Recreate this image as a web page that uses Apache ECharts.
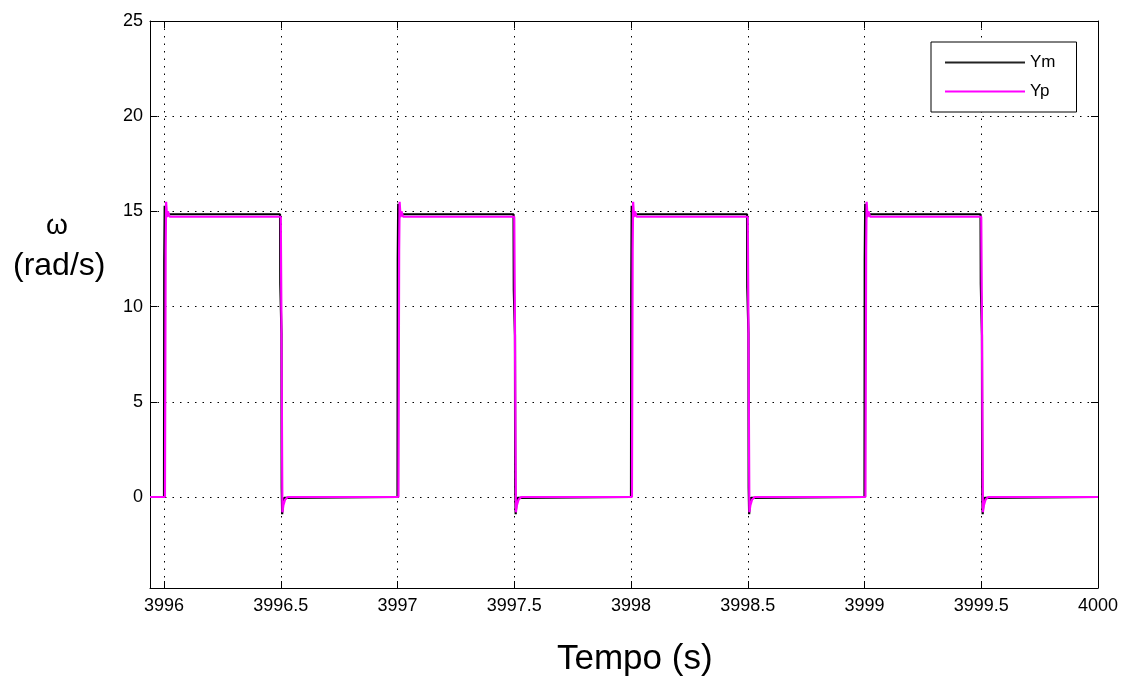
<!DOCTYPE html>
<html>
<head>
<meta charset="utf-8">
<script src="https://cdn.jsdelivr.net/npm/echarts@6/dist/echarts.min.js"></script>
<style>
  html, body { margin: 0; padding: 0; background: #ffffff; }
  #chart { width: 1126px; height: 684px; }
</style>
</head>
<body>
<div id="chart"></div>
<script>
// Axis ranges and tick positions
const xRange = [3995.94, 4000];
const yRange = [-4.78, 25];
const xTicks = [3996, 3996.5, 3997, 3997.5, 3998, 3998.5, 3999, 3999.5, 4000];
const yTicks = [0, 5, 10, 15, 20, 25];

// Ym: measured speed (rad/s) vs time (s)
const ymTime = [
  3995.94, 3996.000, 3996.001, 3996.003, 3996.006, 3996.009, 3996.014, 3996.497, 3996.498, 3996.503, 3996.504, 3996.506, 3996.509, 3996.514, 3996.522,
  3997.000, 3997.001, 3997.003, 3997.006, 3997.009, 3997.014, 3997.497, 3997.498, 3997.503, 3997.504, 3997.506, 3997.509, 3997.514, 3997.522,
  3998.000, 3998.001, 3998.003, 3998.006, 3998.009, 3998.014, 3998.497, 3998.498, 3998.503, 3998.504, 3998.506, 3998.509, 3998.514, 3998.522,
  3999.000, 3999.001, 3999.003, 3999.006, 3999.009, 3999.014, 3999.497, 3999.498, 3999.503, 3999.504, 3999.506, 3999.509, 3999.514, 3999.522,
  4000.000
];
const ymValue = [
  0, 0, 12.4, 15.3, 14.6, 15.0, 14.85, 14.85, 11.2, 8.6, 0.5, -0.9, -0.3, -0.05, 0,
  0, 12.5, 15.4, 14.6, 15.0, 14.85, 14.85, 10.9, 8.5, 0.5, -0.9, -0.3, -0.05, 0,
  0, 10.9, 15.3, 14.6, 15.0, 14.85, 14.85, 11.0, 8.6, 0.5, -0.9, -0.3, -0.05, 0,
  0, 12.5, 15.4, 14.6, 15.0, 14.85, 14.85, 11.2, 8.5, 0.5, -0.9, -0.3, -0.05, 0,
  0
];

// Yp: predicted speed (rad/s) vs time (s)
const ypTime = [
  3995.94, 3996.004, 3996.007, 3996.009, 3996.013, 3996.017, 3996.024, 3996.500, 3996.503, 3996.507, 3996.511, 3996.518, 3996.530,
  3997.004, 3997.007, 3997.009, 3997.013, 3997.017, 3997.024, 3997.500, 3997.503, 3997.507, 3997.511, 3997.518, 3997.530,
  3998.004, 3998.007, 3998.009, 3998.013, 3998.017, 3998.024, 3998.500, 3998.503, 3998.507, 3998.511, 3998.518, 3998.530,
  3999.004, 3999.007, 3999.009, 3999.013, 3999.017, 3999.024, 3999.500, 3999.503, 3999.507, 3999.511, 3999.518, 3999.530,
  4000.000
];
const ypValue = [
  0, 0, 13.0, 15.5, 14.7, 15.0, 14.72, 14.72, 9.0, -0.8, -0.45, -0.15, 0,
  0, 13.0, 15.5, 14.7, 15.0, 14.72, 14.72, 9.0, -0.8, -0.45, -0.15, 0,
  0, 13.0, 15.5, 14.7, 15.0, 14.72, 14.72, 9.0, -0.8, -0.45, -0.15, 0,
  0, 13.0, 15.5, 14.7, 15.0, 14.72, 14.72, 9.0, -0.8, -0.45, -0.15, 0,
  0
];

const pair = (ts, vs) => ts.map((t, i) => [t, vs[i]]);

const FONT = 'Liberation Sans, Arial, sans-serif';
const labelFont = { fontFamily: FONT, fontSize: 18, color: '#000' };
const tickStyle = { show: true, inside: true, length: 7, lineStyle: { color: '#000', width: 1 } };
const axisLine = { show: true, onZero: false, lineStyle: { color: '#000', width: 1 } };
const gridDots = { show: true, lineStyle: { color: '#000', width: 1, type: [1.5, 6] } };

function xAxisDef(position, main) {
  return {
    type: 'value', position: position, min: xRange[0], max: xRange[1],
    axisLine: axisLine,
    axisTick: Object.assign({ customValues: xTicks }, tickStyle),
    axisLabel: main
      ? Object.assign({ show: true, margin: 9, customValues: xTicks, formatter: v => String(v) }, labelFont)
      : { show: false },
    splitLine: main ? gridDots : { show: false }
  };
}
function yAxisDef(position, main) {
  return {
    type: 'value', position: position, min: yRange[0], max: yRange[1],
    axisLine: axisLine,
    axisTick: Object.assign({ customValues: yTicks }, tickStyle),
    axisLabel: main
      ? Object.assign({ show: true, margin: 7, customValues: yTicks, formatter: v => String(v) }, labelFont)
      : { show: false },
    splitLine: main ? gridDots : { show: false }
  };
}

const chart = echarts.init(document.getElementById('chart'), null, { renderer: 'canvas' });
chart.setOption({
  animation: false,
  backgroundColor: '#ffffff',
  grid: { left: 150, right: 28, top: 21, bottom: 96, containLabel: false },
  xAxis: [xAxisDef('bottom', true), xAxisDef('top', false)],
  yAxis: [yAxisDef('left', true), yAxisDef('right', false)],
  legend: {
    orient: 'vertical',
    left: 931, top: 42,
    padding: [11, 21, 11, 14],
    icon: 'rect',
    itemWidth: 80, itemHeight: 2, itemGap: 10,
    backgroundColor: '#ffffff',
    borderColor: '#000', borderWidth: 1, borderRadius: 0,
    textStyle: { fontFamily: FONT, fontSize: 17, color: '#000', lineHeight: 19 },
    data: [
      { name: 'Ym', itemStyle: { color: '#222' } },
      { name: 'Yp', itemStyle: { color: '#ff00ff' } }
    ]
  },
  series: [
    {
      name: 'Ym', type: 'line', xAxisIndex: 0, yAxisIndex: 0,
      data: pair(ymTime, ymValue),
      showSymbol: false, symbol: 'none',
      lineStyle: { color: '#000', width: 2.2 }, itemStyle: { color: '#000' },
      z: 3
    },
    {
      name: 'Yp', type: 'line', xAxisIndex: 0, yAxisIndex: 0,
      data: pair(ypTime, ypValue),
      showSymbol: false, symbol: 'none',
      lineStyle: { color: '#ff00ff', width: 2.2 }, itemStyle: { color: '#ff00ff' },
      z: 4
    }
  ],
  graphic: [
    {
      type: 'text', left: 46, top: 212,
      style: { text: 'ω', fontFamily: FONT, fontSize: 28, fill: '#000' }
    },
    {
      type: 'text', left: 13, top: 250,
      style: { text: '(rad/s)', fontFamily: FONT, fontSize: 32, fill: '#000' }
    },
    {
      type: 'text', left: 557, top: 642,
      style: { text: 'Tempo (s)', fontFamily: FONT, fontSize: 35, fill: '#000' }
    }
  ]
});
</script>
</body>
</html>
